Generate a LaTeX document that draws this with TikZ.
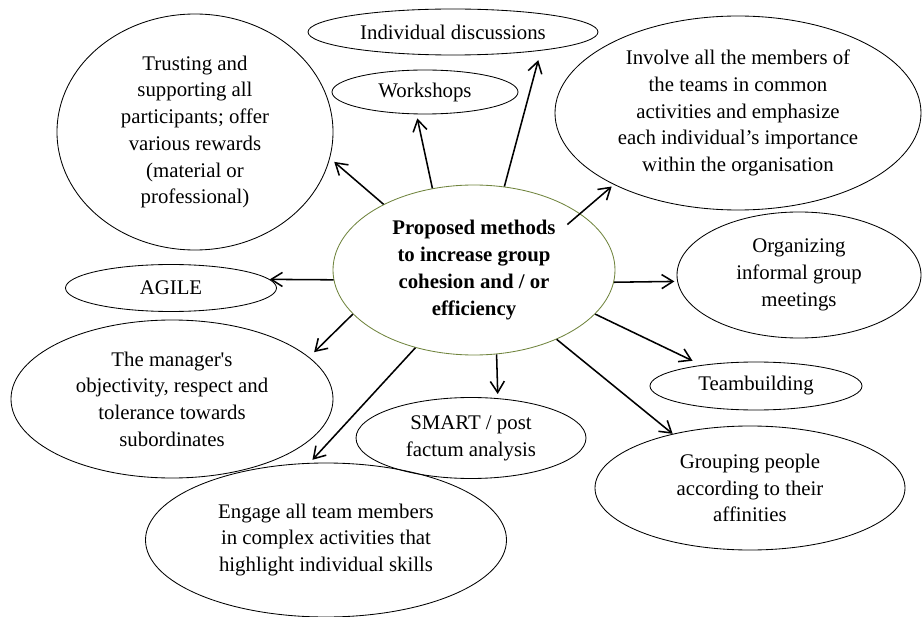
\documentclass[tikz,border=0pt]{standalone}
\usepackage{fontspec}
\setmainfont{Liberation Serif}
\usetikzlibrary{shapes.geometric,arrows.meta}
\definecolor{olivering}{RGB}{112,132,62}

\begin{document}
\begin{tikzpicture}[x=0.025cm,y=-0.025cm,font=\fontsize{14.8}{19}\selectfont,
        bubble/.style={draw,ellipse,inner sep=0pt,line width=0.6pt,align=center},
        sz/.style 2 args={minimum width=#1*0.025cm,minimum height=#2*0.025cm},
        arr/.style={line width=1.1pt,-{Straight Barb[length=8pt,width=10pt]}}]
        \useasboundingbox (0,0) rectangle (922,617);
        \node[bubble,sz={282}{170},draw=olivering,font=\fontsize{14.8}{19}\selectfont\bfseries] (P) at (474,270) {Proposed methods\\to increase group\\cohesion and / or\\efficiency};%centre
        \node[bubble,sz={276}{236}] (T) at (195,132) {Trusting and\\supporting all\\participants; offer\\various rewards\\(material or\\professional)};%trust
        \node[bubble,sz={290}{46}] (D) at (453,32) {Individual discussions};%discussions
        \node[bubble,sz={186}{44}] (W) at (425,92) {Workshops};%workshops
        \node[bubble,sz={366}{194}] (I) at (738,113) {Involve all the members of\\the teams in common\\activities and emphasize\\each individual’s importance\\within the organisation};%involve
        \node[bubble,sz={244}{126}] (O) at (799,275) {Organizing\\informal group\\meetings};%meetings
        \node[bubble,sz={212}{48}] (B) at (756,386) {Teambuilding};%teambuilding
        \node[bubble,sz={310}{124}] (G) at (750,488) {Grouping people\\according to their\\affinities};%grouping
        \node[bubble,sz={230}{81}] (S) at (471,438) {SMART / post\\factum analysis};%smart
        \node[bubble,sz={361}{154}] (E) at (326,540) {Engage all team members\\in complex activities that\\highlight individual skills};%engage
        \node[bubble,sz={322}{158}] (M) at (172,399) {The manager\textquotesingle s\\objectivity, respect and\\tolerance towards\\subordinates};%manager
        \node[bubble,sz={211}{47}] (A) at (171,288) {AGILE};%agile
        \draw[arr,shorten >=4pt] (P.144)--(T.-11);
        \draw[arr,shorten >=3pt] (P.117)--(W.249);
        \draw[arr,shorten >=7pt] (P.70)--(D.-12);
        \draw[arr,shorten <=-12pt,shorten >=2pt] (P.28)--(I.210);
        \draw[arr,shorten >=2pt] (P.-5)--(O.183);
        \draw[arr,shorten >=7pt] (P.-20)--(B.159);
        \draw[arr] (P.-40)--(G.145);
        \draw[arr,shorten >=3pt] (P.-75)--(S.56);
        \draw[arr,shorten >=3pt] (P.233)--(E.102);
        \draw[arr,shorten >=5pt] (P.200)--(M.17);
        \draw[arr] (P.184)--(A.5);
\end{tikzpicture}
\end{document}
